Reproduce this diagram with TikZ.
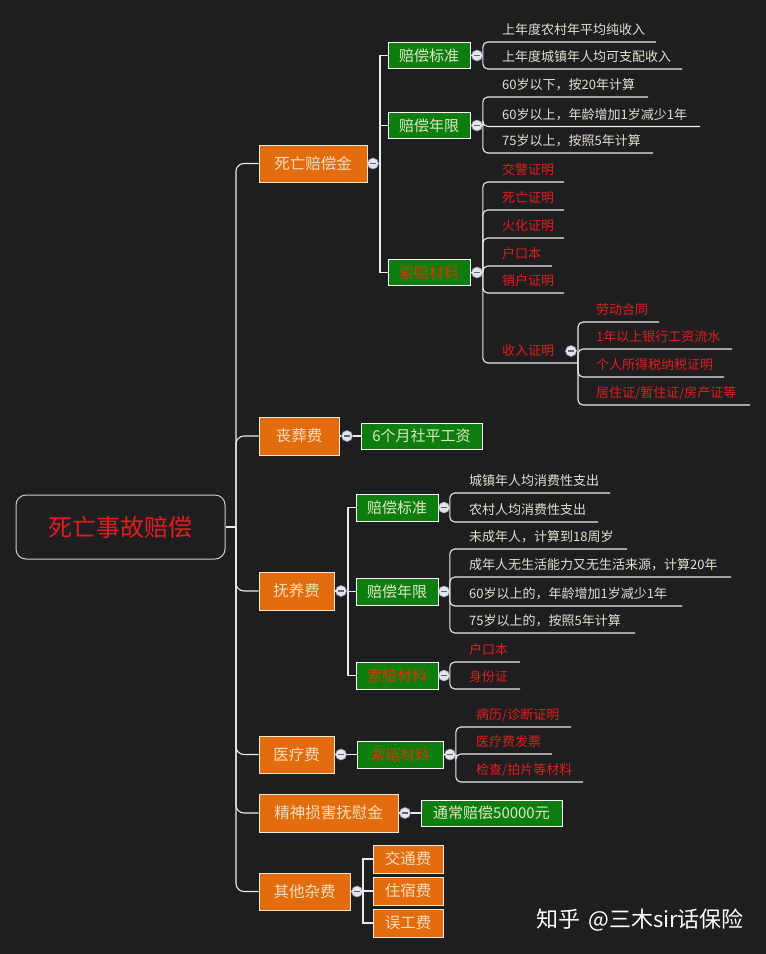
\documentclass[tikz,border=0pt]{standalone}
\usepackage{fontspec}
\setmainfont{Noto Sans CJK SC}
\definecolor{bg}{RGB}{30,30,32}
\definecolor{linec}{RGB}{235,235,235}
\definecolor{orangef}{RGB}{226,108,14}
\definecolor{oborder}{RGB}{245,232,208}
\definecolor{otext}{RGB}{245,222,190}
\definecolor{greenf}{RGB}{14,125,16}
\definecolor{gtext}{RGB}{222,232,196}
\definecolor{ltext}{RGB}{226,222,206}
\definecolor{redt}{RGB}{228,28,28}
\definecolor{redg}{RGB}{214,52,0}
\definecolor{mkfill}{RGB}{226,230,240}
\definecolor{mkdraw}{RGB}{150,152,165}
\newcommand{\lf}[7]{%
  \draw[conn,rounded corners=5] (#2) |- (#5,#4);
  \node[#7] (#1) at (#3,#4-7.5) {#6};
}
\begin{document}
\begin{tikzpicture}[x=1pt,y=-1pt,
  conn/.style={draw=linec,line width=1.1pt},
  obox/.style={draw=oborder,fill=orangef,line width=1pt,text=otext,inner sep=0pt,font=\fontsize{15.5}{18}\selectfont},
  gbox/.style={draw=white,fill=greenf,line width=1pt,text=gtext,inner sep=0pt,font=\fontsize{15}{18}\selectfont},
  rgbox/.style={gbox,text=redg},
  leaf/.style={anchor=base west,inner sep=0pt,text=ltext,font=\fontsize{13}{15}\selectfont},
  rleaf/.style={leaf,text=redt},
  mk/.style={circle,draw=mkdraw,fill=mkfill,line width=0.6pt,minimum size=11pt,inner sep=0pt,
    path picture={\draw[black!60,line width=1.6pt] ([xshift=-3pt]path picture bounding box.center) -- ([xshift=3pt]path picture bounding box.center);}}
]
\fill[bg] (0,0) rectangle (766,954);
\useasboundingbox (0,0) rectangle (766,954);

% root
\node[draw=white!80!black,line width=1pt,rounded corners=10pt,minimum width=209pt,minimum height=64pt,inner sep=0pt,text=redt,font=\fontsize{24}{28}\selectfont] (root) at (120.5,527) {死亡事故赔偿};
\coordinate (rj) at (236,527);

% level 1
\node[obox,minimum width=108pt,minimum height=37pt] (o1) at (313,163.5) {死亡赔偿金};
\node[obox,minimum width=80pt,minimum height=38pt] (o2) at (299,436) {丧葬费};
\node[obox,minimum width=75pt,minimum height=38pt] (o3) at (296.5,591) {抚养费};
\node[obox,minimum width=75pt,minimum height=37pt] (o4) at (296.5,754.5) {医疗费};
\node[obox,minimum width=139pt,minimum height=38pt] (o5) at (328.5,813) {精神损害抚慰金};
\node[obox,minimum width=91pt,minimum height=37pt] (o6) at (304.5,891.5) {其他杂费};

\draw[conn] (root.east) -- (rj);
\foreach \b in {o1,o2,o3,o4,o5,o6}{\draw[conn,rounded corners=8] (rj) |- (\b.west);}

% ---- 死亡赔偿金
\node[mk] (m1) at (373,163.5) {};
\coordinate (j1) at (380,163.5);
\node[gbox,minimum width=82pt,minimum height=26pt] (g11) at (429,55.5) {赔偿标准};
\node[gbox,minimum width=82pt,minimum height=26pt] (g12) at (429,125.5) {赔偿年限};
\node[rgbox,minimum width=82pt,minimum height=26pt] (g13) at (429,272.5) {索赔材料};
\draw[conn] (o1.east) -- (m1.west);
\draw[conn] (m1.east) -- (j1);
\draw[conn] (j1) |- (g11.west);
\draw[conn] (j1) |- (g12.west);
\draw[conn] (j1) |- (g13.west);
\node[mk] (m11) at (477,55.5) {};
\node[mk] (m12) at (477,125.5) {};
\node[mk] (m13) at (477,272.5) {};
\draw[conn] (g11.east) -- (m11.west);
\draw[conn] (g12.east) -- (m12.west);
\draw[conn] (g13.east) -- (m13.west);

\lf{a1}{m11.east}{502}{42}{656}{上年度农村年平均纯收入}{leaf}
\lf{a2}{m11.east}{502}{69}{682}{上年度城镇年人均可支配收入}{leaf}

\lf{b1}{m12.east}{502}{97}{648}{60岁以下，按20年计算}{leaf}
\lf{b2}{m12.east}{502}{126.5}{700}{60岁以上，年龄增加1岁减少1年}{leaf}
\lf{b3}{m12.east}{502}{153}{653}{75岁以上，按照5年计算}{leaf}

\lf{c1}{m13.east}{502}{182}{564}{交警证明}{rleaf}
\lf{c2}{m13.east}{502}{210}{564}{死亡证明}{rleaf}
\lf{c3}{m13.east}{502}{238}{564}{火化证明}{rleaf}
\lf{c4}{m13.east}{502}{266}{552}{户口本}{rleaf}
\lf{c5}{m13.east}{502}{293}{564}{销户证明}{rleaf}
\lf{c6}{m13.east}{502}{363}{578}{收入证明}{rleaf}
\node[mk] (m131) at (571,351) {};
\coordinate (sj) at (578,363);
\lf{d1}{sj}{596}{322}{659}{劳动合同}{rleaf}
\lf{d2}{sj}{596}{349}{732}{1年以上银行工资流水}{rleaf}
\lf{d3}{sj}{596}{377}{724}{个人所得税纳税证明}{rleaf}
\lf{d4}{sj}{596}{405}{750}{居住证/暂住证/房产证等}{rleaf}

% ---- 丧葬费
\node[mk] (m2) at (347,436) {};
\node[gbox,minimum width=121pt,minimum height=26pt] (g2) at (421.5,436) {6个月社平工资};
\draw[conn] (o2.east) -- (m2.west);
\draw[conn] (m2.east) -- (g2.west);

% ---- 抚养费
\node[mk] (m3) at (341,591) {};
\coordinate (j3) at (348,591);
\node[gbox,minimum width=82pt,minimum height=27pt] (g31) at (397,507.5) {赔偿标准};
\node[gbox,minimum width=82pt,minimum height=27pt] (g32) at (397,591.5) {赔偿年限};
\node[rgbox,minimum width=82pt,minimum height=27pt] (g33) at (397,675.5) {索赔材料};
\draw[conn] (o3.east) -- (m3.west);
\draw[conn] (m3.east) -- (j3);
\draw[conn] (j3) |- (g31.west);
\draw[conn] (j3) |- (g32.west);
\draw[conn] (j3) |- (g33.west);
\node[mk] (m31) at (444,507.5) {};
\node[mk] (m32) at (444,591.5) {};
\node[mk] (m33) at (444,675.5) {};
\draw[conn] (g31.east) -- (m31.west);
\draw[conn] (g32.east) -- (m32.west);
\draw[conn] (g33.east) -- (m33.west);

\lf{e1}{m31.east}{469}{493}{610}{城镇年人均消费性支出}{leaf}
\lf{e2}{m31.east}{469}{522}{598}{农村人均消费性支出}{leaf}
\lf{f1}{m32.east}{469}{549}{627}{未成年人，计算到18周岁}{leaf}
\lf{f2}{m32.east}{469}{577}{731}{成年人无生活能力又无生活来源，计算20年}{leaf}
\lf{f3}{m32.east}{469}{606}{682}{60岁以上的，年龄增加1岁减少1年}{leaf}
\lf{f4}{m32.east}{469}{633}{635}{75岁以上的，按照5年计算}{leaf}
\lf{h1}{m33.east}{469}{662}{520}{户口本}{rleaf}
\lf{h2}{m33.east}{469}{689}{520}{身份证}{rleaf}

% ---- 医疗费
\node[mk] (m4) at (341,754.5) {};
\node[rgbox,minimum width=86pt,minimum height=27pt] (g4) at (400,754.5) {索赔材料};
\node[mk] (m41) at (450,754.5) {};
\draw[conn] (o4.east) -- (m4.west);
\draw[conn] (m4.east) -- (g4.west);
\draw[conn] (g4.east) -- (m41.west);
\lf{k1}{m41.east}{476}{727}{571}{病历/诊断证明}{rleaf}
\lf{k2}{m41.east}{476}{754}{552}{医疗费发票}{rleaf}
\lf{k3}{m41.east}{476}{782}{583}{检查/拍片等材料}{rleaf}

% ---- 精神损害抚慰金
\node[mk] (m5) at (405,813) {};
\node[gbox,minimum width=141pt,minimum height=26pt] (g5) at (491.5,813) {通常赔偿50000元};
\draw[conn] (o5.east) -- (m5.west);
\draw[conn] (m5.east) -- (g5.west);

% ---- 其他杂费
\node[mk] (m6) at (357,891.5) {};
\coordinate (j6) at (363,891.5);
\node[obox,minimum width=70pt,minimum height=28pt] (o61) at (408,859) {交通费};
\node[obox,minimum width=70pt,minimum height=28pt] (o62) at (408,891) {住宿费};
\node[obox,minimum width=70pt,minimum height=28pt] (o63) at (408,923) {误工费};
\draw[conn] (o6.east) -- (m6.west);
\draw[conn] (m6.east) -- (j6);
\draw[conn] (j6) |- (o61.west);
\draw[conn] (j6) |- (o62.west);
\draw[conn] (j6) |- (o63.west);

% watermark
\node[anchor=west,inner sep=0pt,text=white,font=\fontsize{22}{24}\selectfont] (wm) at (536,920) {知乎\hspace{8pt}@三木sir话保险};
\end{tikzpicture}
\end{document}
